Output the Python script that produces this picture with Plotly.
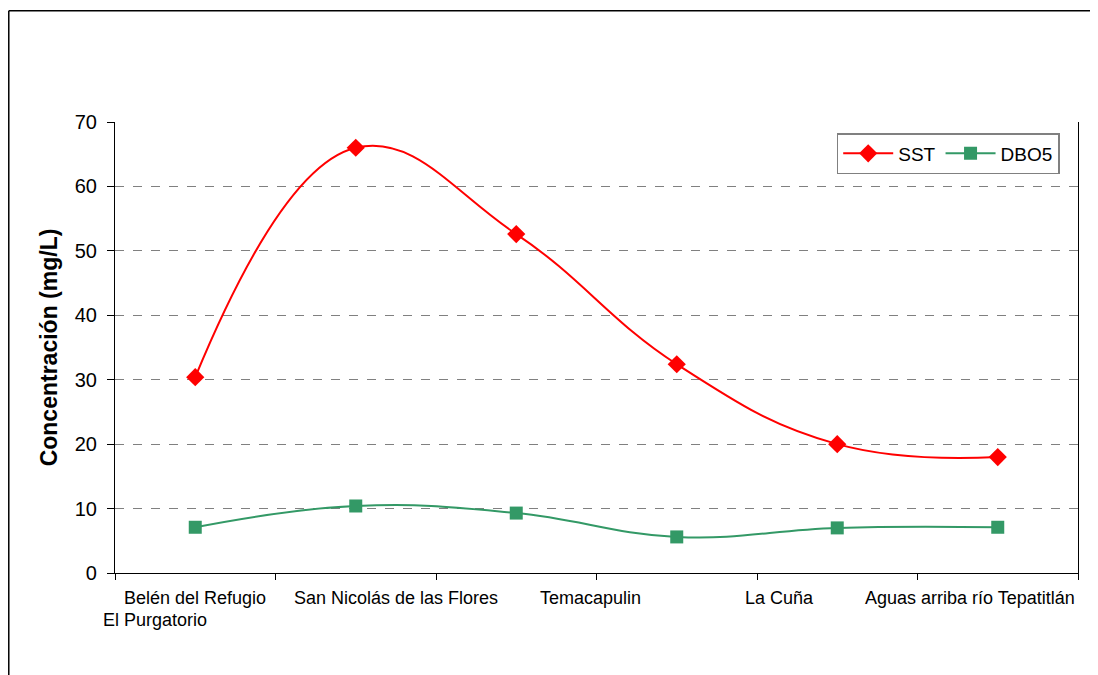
import plotly.graph_objects as go

# Data
puntos = [0, 1, 2, 3, 4, 5]
sst = [30.4, 66.0, 52.6, 32.4, 20.0, 18.0]
dbo5 = [7.1, 10.4, 9.3, 5.6, 7.0, 7.1]

# x-axis labels as drawn by the original (Excel) chart
etiquetas = ["Belén del Refugio", "El Purgatorio", "San Nicolás de las Flores",
             "Temacapulin", "La Cuña", "Aguas arriba río Tepatitlán"]
etiqueta_x = [0.0, -0.25, 1.25, 2.46, 3.64, 4.83]
etiqueta_fila = [0, 1, 0, 0, 0, 0]

fig = go.Figure()

fig.add_trace(go.Scatter(x=puntos, y=sst, name="SST", mode="lines+markers",
                         line=dict(color="#ff0000", width=2, shape="spline", smoothing=1.2),
                         marker=dict(symbol="diamond", size=14, color="#ff0000")))
fig.add_trace(go.Scatter(x=puntos, y=dbo5, name="DBO5", mode="lines+markers",
                         line=dict(color="#339966", width=2, shape="spline", smoothing=1.2),
                         marker=dict(symbol="square", size=13, color="#339966")))

for txt, xv, fila in zip(etiquetas, etiqueta_x, etiqueta_fila):
    fig.add_annotation(x=xv, y=0, xref="x", yref="y", text=txt, showarrow=False,
                       xanchor="center", yanchor="top", yshift=-13 - 22 * fila,
                       font=dict(size=18, color="#000000"))

# outer chart frame: left edge and top edge only
fig.add_shape(type="line", xref="paper", yref="paper",
              x0=-0.1103, x1=-0.1103, y0=-0.4, y1=1.2465,
              line=dict(color="#000000", width=1.5))
fig.add_shape(type="line", xref="paper", yref="paper",
              x0=-0.1103, x1=1.02, y0=1.2465, y1=1.2465,
              line=dict(color="#000000", width=1.5))

fig.update_layout(
    width=1082, height=667,
    margin=dict(l=107, r=12, t=114, b=102),
    paper_bgcolor="white", plot_bgcolor="white",
    font=dict(family="Arial, Liberation Sans, sans-serif", color="#000000"),
    showlegend=True,
    legend=dict(x=0.981, y=0.9756, xanchor="right", yanchor="top",
                orientation="h", bordercolor="#808080", borderwidth=1.5,
                bgcolor="white", font=dict(size=19), itemwidth=50,
                tracegroupgap=0),
)

fig.update_xaxes(range=[-0.5, 5.5], tickvals=[-0.5, 0.5, 1.5, 2.5, 3.5, 4.5, 5.5],
                 showticklabels=False, ticks="outside", ticklen=6,
                 tickcolor="#000000", showline=True, linecolor="#000000",
                 linewidth=1.2, showgrid=False, zeroline=False)
fig.update_yaxes(range=[0, 70], dtick=10, ticks="outside", ticklen=7,
                 tickcolor="#000000", showline=True, linecolor="#000000",
                 linewidth=1.2, mirror=True, showgrid=True, gridcolor="#808080",
                 griddash="dash", gridwidth=1, zeroline=False,
                 tickfont=dict(size=20), ticklabelstandoff=6,
                 title=dict(text="<b>Concentración (mg/L)</b>", font=dict(size=23),
                            standoff=10))

fig.write_html("out.html")
